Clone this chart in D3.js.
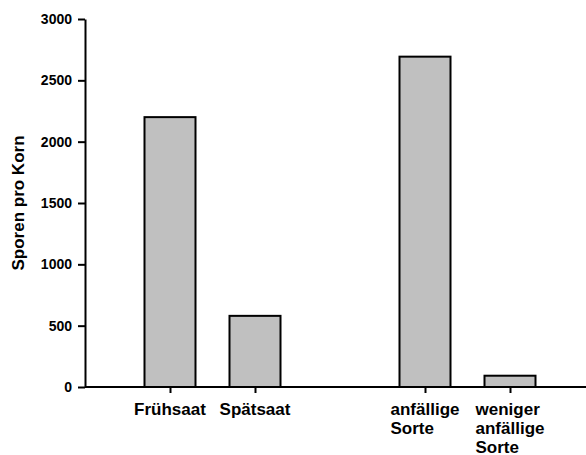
<!DOCTYPE html>
<html>
<head>
<meta charset="utf-8">
<script src="https://cdn.jsdelivr.net/npm/d3@7"></script>
<style>
  body { margin: 0; background: #fff; }
  text { font-family: Arial, "Liberation Sans", sans-serif; font-weight: bold; fill: #000; }
</style>
</head>
<body>
<script>
// Data
var categories = ["Frühsaat", "Spätsaat", "", "anfällige Sorte", "weniger anfällige Sorte"];
var labelLines = [["Frühsaat"], ["Spätsaat"], [], ["anfällige", "Sorte"], ["weniger", "anfällige", "Sorte"]];
var values = [2200, 580, null, 2693, 92];
var yTicks = [0, 500, 1000, 1500, 2000, 2500, 3000];
var yTitle = "Sporen pro Korn";

var W = 586, H = 455;
var mLeft = 85, mRight = 586, mTop = 19, mBottom = 387;

var svg = d3.select("body").append("svg")
    .attr("width", W)
    .attr("height", H);

var x = d3.scalePoint()
    .domain(categories)
    .range([170, 510]);
var barW = x.step() * 0.6;

var y = d3.scaleLinear()
    .domain([0, 3000])
    .range([mBottom, mTop]);

// bars
var data = categories.map(function(c, i) { return {cat: c, value: values[i], lines: labelLines[i]}; })
  .filter(function(d) { return d.value != null; });

svg.selectAll("rect.bar").data(data).enter()
  .append("rect")
    .attr("class", "bar")
    .attr("x", function(d) { return x(d.cat) - barW / 2; })
    .attr("y", function(d) { return y(d.value); })
    .attr("width", barW)
    .attr("height", function(d) { return y(0) - y(d.value); })
    .style("fill", "#c0c0c0")
    .style("stroke", "#000")
    .style("stroke-width", 2);

// y axis
var yAxis = svg.append("g")
    .attr("transform", "translate(" + mLeft + ",0)")
    .call(d3.axisLeft(y).tickValues(yTicks).tickFormat(d3.format("d"))
      .tickSize(7).tickSizeOuter(0).tickPadding(6));
yAxis.select(".domain").attr("stroke-width", 2);
yAxis.selectAll(".tick line").attr("stroke-width", 2);
yAxis.selectAll(".tick text").style("font-size", "14px").style("font-family", "Arial, 'Liberation Sans', sans-serif");

// x axis
var xAxis = svg.append("g")
    .attr("transform", "translate(0," + mBottom + ")")
    .call(d3.axisBottom(x).tickValues(data.map(function(d) { return d.cat; })).tickSize(6).tickSizeOuter(0).tickFormat(""));
xAxis.select(".domain").attr("d", "M" + mLeft + ",0H" + mRight).attr("stroke-width", 2);
xAxis.selectAll(".tick line").attr("stroke-width", 2);

// x labels, left aligned block centred on tick
var lab = svg.selectAll("text.xlab").data(data).enter()
  .append("text")
    .attr("class", "xlab")
    .attr("y", 415)
    .style("font-size", "17px");
lab.selectAll("tspan").data(function(d) { return d.lines; }).enter()
  .append("tspan")
    .attr("dy", function(d, i) { return i === 0 ? 0 : 18.8; })
    .text(function(d) { return d; });
lab.each(function(d) {
  var t = d3.select(this);
  var w = 0;
  t.selectAll("tspan").each(function() { w = Math.max(w, this.getComputedTextLength()); });
  var x0 = x(d.cat) - w / 2;
  t.selectAll("tspan").attr("x", x0);
});

// y title
svg.append("text")
    .attr("transform", "translate(24," + ((mTop + mBottom) / 2) + ") rotate(-90)")
    .attr("text-anchor", "middle")
    .style("font-size", "17px")
    .text(yTitle);
</script>
</body>
</html>
